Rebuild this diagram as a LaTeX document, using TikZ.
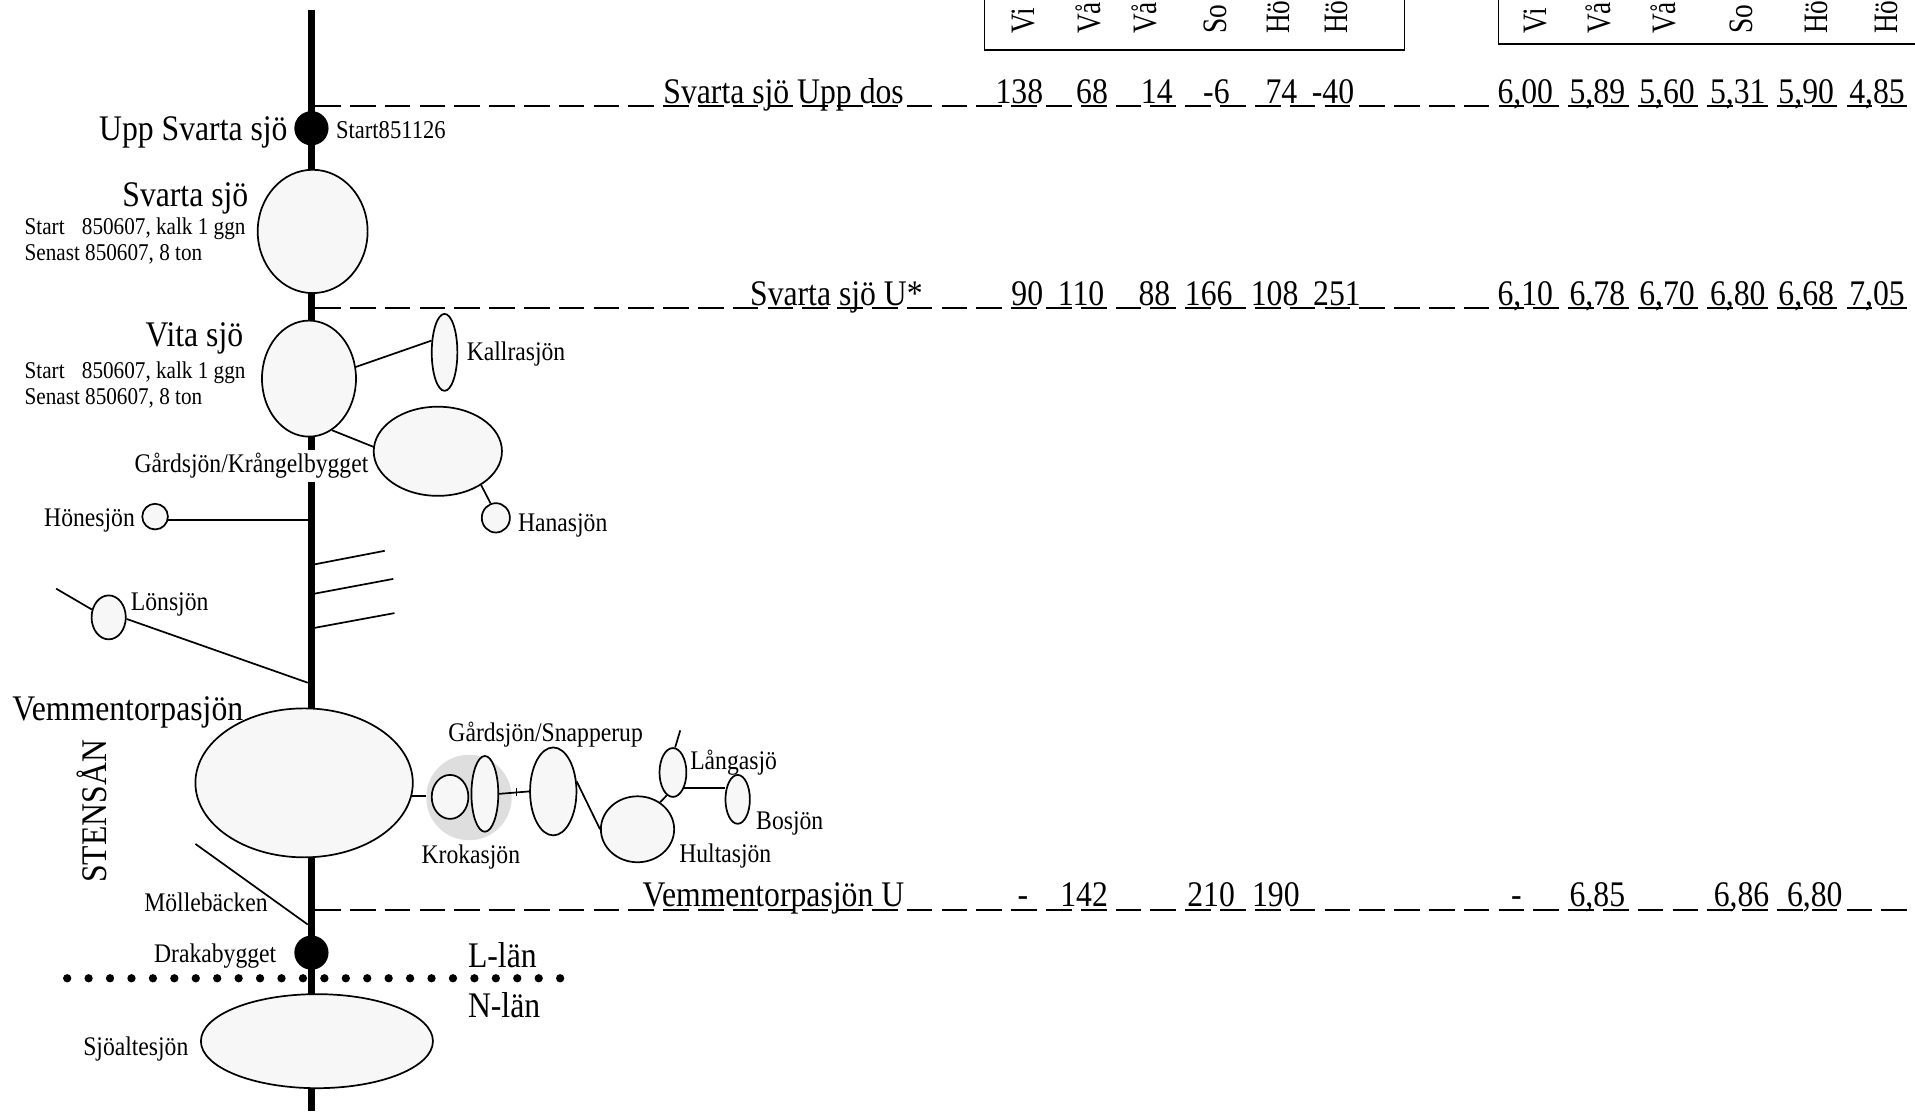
\documentclass[tikz,border=0pt]{standalone}
\usepackage{fontspec}
\setmainfont[FakeStretch=0.88]{Liberation Serif}
\newfontfamily\colfont[FakeStretch=0.8]{Liberation Serif}
\usepackage{tikz}
\usetikzlibrary{positioning,shapes.geometric,calc}
\definecolor{lakefill}{HTML}{F7F7F7}
\definecolor{lakeshade}{HTML}{DEDEDE}

\begin{document}
\begin{tikzpicture}[x=1pt,y=-1pt,
    lake/.style={ellipse,draw,fill=lakefill,line width=1.4pt,inner sep=0pt},
    plant/.style={ellipse,fill=black,inner sep=0pt,minimum width=28,minimum height=28},
    branch/.style={line width=1.4pt},
    level/.style={line width=1.3pt,dash pattern=on 21pt off 7.5pt},
    bigtext/.style={anchor=base west,inner sep=0pt,font=\fontsize{29.5}{31}\selectfont},
    midtext/.style={anchor=base west,inner sep=0pt,font=\fontsize{22}{24}\selectfont},
    smalltext/.style={anchor=base west,inner sep=0pt,font=\fontsize{19.7}{22}\selectfont},
    coltext/.style={anchor=base west,rotate=90,inner sep=0pt,font=\colfont\fontsize{28}{30}\selectfont}]
    \useasboundingbox (0,0) rectangle (1568,910);

    % Column boxes, cut by the page
    \draw[line width=1.4pt] (806,-20) -- (806,41) -- (1150,41) -- (1150,-20);
    \draw[line width=1.4pt] (1227,-20) -- (1227,36) -- (1590,36);
    \foreach \x/\t in {847/Vi, 901/Vå, 947/Vå, 1004/So, 1056/Hö, 1103/Hö, 1266/Vi, 1319/Vå, 1372/Vå, 1435/So, 1496/Hö, 1554/Hö} {
        \node[coltext] (col\x) at (\x,28) {\t};
    }

    % River and level lines
    \coordinate (rivertop) at (255,8);
    \coordinate (riverend) at (255,910);
    \draw[line width=5.7pt] (rivertop) -- (riverend);
    \coordinate (up1) at (258,87);
    \coordinate (up2) at (258,252);
    \coordinate (up3) at (258,745);
    \draw[level] (up1) -- (1566,87);
    \draw[level] (up2) -- (1566,252);
    \draw[level] (up3) -- (1568,745);

    % Border between the counties
    \foreach \i in {0,...,23} {
        \fill ({55+\i*17.55},801) circle (3.4pt);
    }

    % Lakes along the river
    \node[plant] (uppsvarta) at (255,105) {};
    \node[plant] (draka) at (255,780) {};
    \node[lake,minimum width=90,minimum height=101] (svarta) at (256,189.5) {};
    \node[lake,minimum width=77,minimum height=95] (vita) at (253,310) {};
    \node[lake,minimum width=178,minimum height=122] (vemmen) at (249,641) {};
    \node[lake,minimum width=190,minimum height=77] (sjoalte) at (259.5,852.5) {};

    % Side lakes
    \node[lake,minimum width=21,minimum height=63] (kallra) at (364,288.5) {};
    \node[midtext,fill=white,inner ysep=3pt] (gardkrang) at (110,387) {Gårdsjön/Krångelbygget};
    \node[lake,minimum width=105,minimum height=73] (gardsjon) at (358.5,369.5) {};
    \node[lake,minimum width=23,minimum height=24] (hana) at (406,424) {};
    \node[lake,minimum width=21,minimum height=21] (hone) at (127,423) {};
    \node[lake,minimum width=28,minimum height=36] (lon) at (89,505.5) {};
    \draw[branch] (vita.14) -- (kallra.138);
    \draw[branch] (vita.-66) -- (gardsjon.176);
    \draw[branch] (gardsjon.-38) -- (hana.110);
    \draw[branch] (hone.-15) -- (hone.-15 -| rivertop);
    \coordinate (lonfree) at (46,482);
    \coordinate (lonriver) at (252,559);
    \draw[branch] (lonfree) -- (lon.155);
    \draw[branch] (lon.-5) -- (lonriver);

    % Three small streams
    \foreach \a/\b/\c/\d in {258/462/315/451, 258/486/322/474, 258/514/323/502} {
        \draw[branch] (\a,\b) -- (\c,\d);
    }

    % Lakes east of Vemmentorpasjön
    \node[circle,fill=lakeshade,inner sep=0pt,minimum size=70] (shade) at (384,653) {};
    \node[lake,minimum width=30,minimum height=36] (kroka) at (368.5,652.5) {};
    \node[lake,minimum width=22,minimum height=62] (gardsnap1) at (397,650) {};
    \node[lake,minimum width=38,minimum height=72] (gardsnap2) at (453,648) {};
    \node[lake,minimum width=60,minimum height=54] (hulta) at (522,679) {};
    \node[lake,minimum width=22,minimum height=40] (langa) at (551,632.5) {};
    \node[lake,minimum width=20,minimum height=40] (bosjon) at (604,654.5) {};
    \draw[branch] (vemmen.-7) -- (shade.west |- vemmen.-7);
    \draw[branch] (gardsnap1.east) -- (gardsnap2.west);
    \draw[branch] (423,645) -- (423,652);
    \draw[branch] (gardsnap2.23) -- (hulta.180);
    \draw[branch] (hulta.50) -- (langa.-105);
    \draw[branch] (langa.-54) -- (langa.-54 -| bosjon.west);
    \coordinate (langafree) at (557,598);
    \draw[branch] (langa.85) -- (langafree);
    \coordinate (mollefree) at (160,691);
    \coordinate (molleriver) at (252,757);
    \draw[branch] (mollefree) -- (molleriver);

    % Names
    \node[bigtext] (n1) at (81,115) {Upp Svarta sjö};
    \node[bigtext] (n2) at (100,169) {Svarta sjö};
    \node[bigtext] (n3) at (119,284) {Vita sjö};
    \node[bigtext] (n4) at (10,590) {Vemmentorpasjön};
    \node[bigtext] (n5) at (383,792) {L-län};
    \node[bigtext] (n6) at (383,833) {N-län};
    \node[bigtext,rotate=90] (n7) at (87,723) {STENSÅN};
    \node[smalltext,font=\fontsize{21}{23}\selectfont] (n8) at (275,113) {Start851126};
    \foreach \y in {192,310} {
        \node[smalltext] (st\y) at (20,\y) {Start\hspace{0.5em} 850607, kalk 1 ggn};
    }
    \foreach \y in {213,331} {
        \node[smalltext] (se\y) at (20,\y) {Senast 850607, 8 ton};
    }
    \foreach \x/\y/\t in {382/295/Kallrasjön, 424/435/Hanasjön, 36/431/Hönesjön, 107/500/Lönsjön, 367/607/Gårdsjön\slash Snapperup, 565/630/Långasjö, 619/679/Bosjön, 345/707/Krokasjön, 556/706/Hultasjön, 118/746/Möllebäcken, 126/788/Drakabygget, 68/864/Sjöaltesjön} {
        \node[midtext] (name\x) at (\x,\y) {\t};
    }

    % Table rows
    \foreach \x/\t in {543/Svarta sjö Upp dos, 815/138, 881/68, 934/14, 985/-6, 1036/74, 1074/-40, 1226/{6,00}, 1285/{5,89}, 1342/{5,60}, 1400/{5,31}, 1456/{5,90}, 1514/{4,85}} {
        \node[bigtext] (rowa\x) at (\x,85) {\t};
    }
    \foreach \x/\t in {614/Svarta sjö U*, 828/90, 866/110, 932/88, 970/166, 1024/108, 1075/251, 1226/{6,10}, 1285/{6,78}, 1342/{6,70}, 1400/{6,80}, 1456/{6,68}, 1514/{7,05}} {
        \node[bigtext] (rowb\x) at (\x,250) {\t};
    }
    \foreach \x/\t in {526/Vemmentorpasjön U, 833/-, 868/142, 972/210, 1025/190, 1237/-, 1285/{6,85}, 1403/{6,86}, 1463/{6,80}} {
        \node[bigtext] (rowc\x) at (\x,742) {\t};
    }
\end{tikzpicture}
\end{document}
